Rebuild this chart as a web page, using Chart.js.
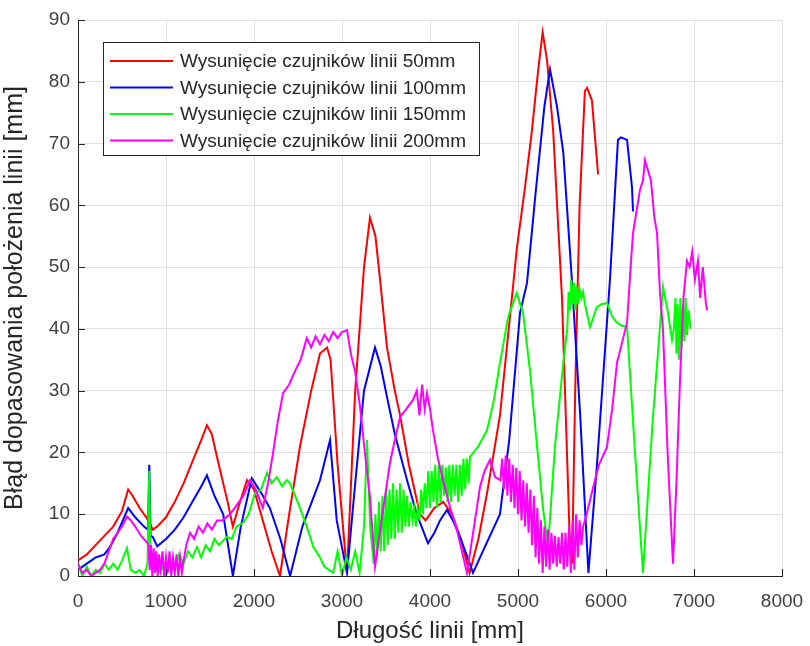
<!DOCTYPE html>
<html>

<head>
    <title>Błąd dopasowania położenia linii</title>
    <style>
        body { margin: 0; background: #fff; }
    </style>
</head>

<body>
    <canvas id="myChart" width="810" height="646"></canvas>
    <script src="https://cdn.jsdelivr.net/npm/chart.js@4"></script>
    <script type="text/javascript">
        // [długość linii mm, błąd mm]
        const red50 = [[0,2.5],[100,3.5],[200,5],[300,6.5],[400,8],[500,10.5],[570,14],[620,13],[700,11],[800,9],[850,7.5],[900,8],
            [1000,9.5],[1100,12],[1200,15],[1300,18.5],[1400,22],[1465,24.4],[1520,23],[1600,18],[1700,12],[1760,8],[1820,11],
            [1920,15.5],[2000,14],[2100,9],[2200,4],[2295,0],[2400,10],[2523,21],[2650,30],[2750,36],[2830,37],[2870,35],
            [2950,18],[3057,0.5],[3150,30],[3250,50],[3318,58],[3380,55],[3432,48],[3511,37],[3600,30],[3660,26],[3760,18],
            [3886,10],[3950,9],[4050,11],[4150,12],[4250,10],[4350,6],[4450,0.5],[4550,6],[4648,13.4],[4795,26],[4943,46.8],
            [4985,52.8],[5080,63],[5155,71.7],[5230,82],[5280,88],[5330,83.5],[5400,72],[5500,45],[5590,5],[5615,2],[5650,30],
            [5700,60],[5760,78.5],[5785,79],[5840,77],[5910,65]];

        const blue100 = [[0,1],[100,2],[200,3],[300,3.5],[364,4.7],[450,7],[570,11],[650,9.5],[750,8],[795,7.5],[810,18],
            [825,6.5],[850,6.3],[900,4.8],
            [1000,6],[1100,7.5],[1200,9.5],[1300,12],[1400,14.5],[1465,16.3],[1550,13],[1650,10],[1760,0],[1850,8],[1975,15.8],
            [2080,13.5],[2180,11],[2300,6],[2410,0],[2550,8],[2750,15.5],[2864,22],[2940,9],[3057,0.5],[3150,15],[3250,30],
            [3375,37],[3440,34],[3511,29],[3600,23],[3739,15.5],[3850,10],[3977,5.3],[4050,7],[4114,9],[4193,10.7],[4260,9],
            [4350,6],[4489,0.5],[4600,4],[4795,10],[4900,22],[5023,42.6],[5102,47.4],[5200,62],[5300,76],[5364,82],[5443,76],
            [5515,68.5],[5610,48.4],[5705,26.4],[5800,0.5],[5895,17.6],[6045,48],[6136,70.6],[6170,71],[6239,70.6],[6295,63],
            [6307,59]];

        const green150 = [[0,2],[50,0],[100,1.5],[150,0],[200,1],[250,0.5],[300,2],[350,1],[400,2],[450,1],[500,2.5],[557,4.5],
            [600,1],[650,0.5],[700,1],[750,0],[790,2],[810,17],[820,5],[840,1],[880,2],[920,0.5],[960,1.5],[1000,0],[1050,2],
            [1100,1],[1150,3.5],[1200,2],[1250,4],[1300,3],[1352,4.7],[1400,3],[1450,5],[1500,4],[1550,6],[1600,5],[1690,6.3],
            [1750,6],[1800,8],[1875,8.6],[1940,10],[2010,13.4],[2080,14],[2148,16.7],[2200,15],[2260,16],[2320,14.5],[2370,15.5],
            [2410,15],[2523,11],[2600,8],[2674,4.7],[2750,3],[2800,1.5],[2900,0.5],[2950,4],[3000,0],[3050,3],[3100,1],[3150,4],
            [3200,0.5],[3250,8],[3284,22],[3320,8],[3360,2],[3380,10],[3400,3],[3420,12],[3440,4],[3460,13],[3480,4],[3500,14],
            [3520,5],[3540,14],[3560,6],[3580,15],[3600,6],[3620,14],[3640,7],[3660,15],[3680,7],[3700,14],[3720,8],[3740,13],
            [3760,8],[3780,12],[3800,9],[3820,11],[3840,8],[3860,11],[3880,9],[3900,14],[3920,10],[3940,15],[3960,11],[3980,17],
            [4000,11],[4020,17],[4040,12],[4060,18],[4080,11],[4100,18],[4120,12],[4140,18],[4160,13],[4180,17.6],[4200,12],
            [4220,18],[4240,12],[4260,18],[4280,13],[4300,18],[4320,12],[4340,18],[4360,13],[4380,19],[4400,14],[4420,19],
            [4440,15],[4455,19.3],
            [4550,21],[4648,23.6],[4720,28],[4795,34.5],[4890,42],[4985,45.8],[5057,42.6],[5136,33.3],[5210,22],[5284,11],
            [5341,4.7],[5420,20.9],[5515,34.5],[5560,40],[5575,46],[5590,43],[5605,48],[5620,44],[5635,47.5],[5650,43],
            [5665,47],[5680,44],[5700,46.5],[5720,45],[5740,46],[5760,44],[5818,40.3],
            [5860,42],[5895,43.5],[5950,44],[6011,44.2],[6070,42],[6125,41],[6180,40.5],[6239,40.3],[6330,20],[6420,0.5],
            [6530,25],[6648,46.8],[6700,43],[6750,38.2],[6770,40],[6790,45],[6800,36],[6815,44],[6830,35],[6845,45],[6860,37],
            [6875,44],[6890,38],[6905,45],[6920,39],[6940,43],[6960,40]];

        const magenta200 = [[0,2],[50,0.5],[100,1],[150,0],[200,0.5],[250,1],[300,2],[350,4],[400,6],[450,7],[500,8],[557,9.6],
            [600,9],[650,8],[720,6.4],[780,5.5],[800,5],[815,1],[830,5],[845,0],[860,4.5],[875,0.5],[890,4],[905,0],[920,3.5],
            [940,1],[960,4],[980,0],[1000,3],[1020,0.5],[1040,4],[1060,0],[1080,3],[1100,0.5],[1120,3.5],[1140,0],[1160,3],
            [1180,0.5],[1200,2.5],[1230,5],[1273,7],[1320,6],[1370,8],[1420,7],[1470,8.5],[1520,7.5],[1580,9],[1640,9],
            [1727,10],[1780,11],[1830,12],[1880,13],[1955,15.5],[2020,14],[2100,11],[2160,15],[2216,19.9],[2270,25],[2330,29.6],
            [2400,31],[2460,33],[2530,35],[2600,38.5],[2650,37],[2700,38.8],[2750,37.5],[2800,39],[2850,38],[2900,39.5],
            [2950,38.5],[3000,39.5],[3057,39.8],[3100,36],[3150,33],[3205,27.4],[3260,20],[3318,12.8],[3375,1.5],[3460,10],
            [3545,18.3],[3600,22],[3660,25.7],[3730,27],[3807,28.5],[3850,30],[3880,26],[3910,31],[3940,27],[3966,29.6],
            [4000,27],[4034,23.6],[4090,19],[4148,15.5],[4230,11],[4307,7.4],[4420,0.5],[4500,8],[4568,14.4],[4620,17],
            [4682,18.8],[4740,16],[4800,15.5],[4820,19],[4840,14],[4860,19.5],[4880,13],[4900,19],[4920,12],[4940,18],[4960,11],
            [4980,17.5],[5000,10],[5020,17],[5040,9],[5060,15.5],[5080,8],[5100,15],[5120,7],[5140,14],[5160,5],[5180,13],
            [5200,3],[5220,11],[5240,2],[5260,9],[5280,0.5],[5300,8],[5320,1.5],[5340,7.5],[5360,1],[5380,7],[5400,2],
            [5420,6.5],[5440,1.5],[5460,6.3],[5480,2],[5500,7],[5520,1],[5540,7],[5560,1.5],[5580,8],[5600,0.5],[5620,9],
            [5640,1],[5660,10],[5680,3],[5700,9],[5720,5],[5740,8],[5780,10],
            [5855,14.4],[5920,18],[6011,20.9],[6070,27],[6125,34.5],[6239,41],[6280,50],[6307,55.5],
            [6386,62.5],[6420,64],[6443,67.3],[6470,66],[6511,64],[6550,58],[6580,55.5],[6614,45.8],[6648,39.8],[6700,20],
            [6761,2],[6800,15],[6841,31.7],[6880,45],[6920,51],[6950,50],[6980,52.5],[7010,48],[7045,51],[7070,45],[7100,50],
            [7136,44],[7150,43]];

        const seriesLabels = [
            'Wysunięcie czujników linii 50mm',
            'Wysunięcie czujników linii 100mm',
            'Wysunięcie czujników linii 150mm',
            'Wysunięcie czujników linii 200mm'
        ];
        const seriesColors = ['#ff0000', '#0000ff', '#00ff00', '#ff00ff'];
        const seriesData = [red50, blue100, green150, magenta200];

        const xTicks = [0, 1000, 2000, 3000, 4000, 5000, 6000, 7000, 8000];
        const yTicks = [0, 10, 20, 30, 40, 50, 60, 70, 80, 90];

        const FONT = '"Liberation Sans", Arial, sans-serif';

        // MATLAB-like inward ticks + legend box inside the plot
        const matlabLook = {
            id: 'matlabLook',
            afterDraw(chart) {
                const ctx = chart.ctx;
                const xs = chart.scales.x, ys = chart.scales.y;
                const area = chart.chartArea;
                ctx.save();
                ctx.strokeStyle = '#262626';
                ctx.lineWidth = 1;
                ctx.beginPath();
                yTicks.forEach(v => {
                    const py = Math.round(ys.getPixelForValue(v)) + 0.5;
                    ctx.moveTo(area.left, py);
                    ctx.lineTo(area.left + 7, py);
                });
                xTicks.forEach(v => {
                    const px = Math.round(xs.getPixelForValue(v)) + 0.5;
                    ctx.moveTo(px, area.bottom);
                    ctx.lineTo(px, area.bottom - 7);
                });
                ctx.stroke();

                // legend
                const bx = 103, by = 42, bw = 376, bh = 113;
                ctx.fillStyle = '#ffffff';
                ctx.fillRect(bx, by, bw, bh);
                ctx.strokeStyle = '#262626';
                ctx.strokeRect(bx + 0.5, by + 0.5, bw, bh);
                ctx.font = '19px ' + FONT;
                ctx.textBaseline = 'middle';
                seriesLabels.forEach((lab, i) => {
                    const cy = by + 19 + i * 26.5;
                    ctx.strokeStyle = seriesColors[i];
                    ctx.lineWidth = 2;
                    ctx.beginPath();
                    ctx.moveTo(bx + 7, cy);
                    ctx.lineTo(bx + 70, cy);
                    ctx.stroke();
                    ctx.fillStyle = '#262626';
                    ctx.fillText(lab, bx + 77, cy + 1);
                });
                ctx.restore();
            }
        };

        const ctx = document.getElementById('myChart').getContext('2d');
        const chart = new Chart(ctx, {
            type: 'line',
            data: {
                datasets: seriesData.map((d, i) => ({
                    label: seriesLabels[i],
                    data: d.map(p => ({ x: p[0], y: p[1] })),
                    borderColor: seriesColors[i],
                    backgroundColor: seriesColors[i],
                    borderWidth: 2,
                    pointRadius: 0,
                    tension: 0,
                    fill: false,
                    order: 4 - i
                }))
            },
            plugins: [matlabLook],
            options: {
                responsive: false,
                animation: false,
                layout: { padding: { top: 20, right: 28, left: 0, bottom: 0 } },
                plugins: {
                    legend: { display: false },
                    tooltip: { enabled: false }
                },
                scales: {
                    x: {
                        type: 'linear',
                        min: 0,
                        max: 8000,
                        afterBuildTicks: s => { s.ticks = xTicks.map(v => ({ value: v })); },
                        afterFit: s => { s.height = 70; s.paddingLeft = 0; s.paddingRight = 0; },
                        ticks: {
                            color: '#404040',
                            font: { family: FONT, size: 19 },
                            padding: 14,
                            maxRotation: 0,
                            callback: v => String(v)
                        },
                        grid: { color: '#e0e0e0', tickLength: 0 },
                        border: { color: '#262626', width: 1 },
                        title: {
                            display: true,
                            text: 'Długość linii [mm]',
                            color: '#262626',
                            font: { family: FONT, size: 24 },
                            padding: { top: 0, bottom: 0 }
                        }
                    },
                    y: {
                        type: 'linear',
                        min: 0,
                        max: 90,
                        afterBuildTicks: s => { s.ticks = yTicks.map(v => ({ value: v })); },
                        afterFit: s => { s.width = 78; s.paddingTop = 0; s.paddingBottom = 0; },
                        ticks: {
                            color: '#404040',
                            font: { family: FONT, size: 19 },
                            padding: 8
                        },
                        grid: { color: '#e0e0e0', tickLength: 0 },
                        border: { color: '#262626', width: 1 },
                        title: {
                            display: true,
                            text: 'Błąd dopasowania położenia linii [mm]',
                            color: '#262626',
                            font: { family: FONT, size: 25 },
                            padding: { top: 0, bottom: 9 }
                        }
                    }
                }
            }
        });
    </script>
</body>

</html>
